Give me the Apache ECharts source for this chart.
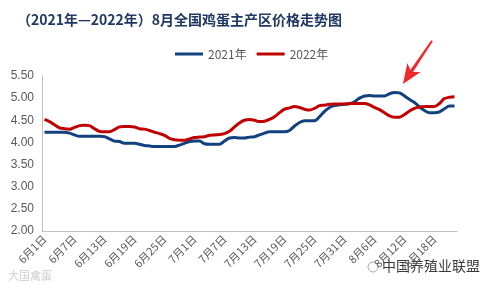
<!DOCTYPE html>
<html><head><meta charset="utf-8">
<script src="https://cdn.jsdelivr.net/npm/echarts@6/dist/echarts.min.js"></script>
<style>html,body{margin:0;padding:0;background:#fff}#c{width:480px;height:288px}</style>
</head><body><div id="c"></div>
<script>
// categories: 6月1日 .. 8月22日
const months = [[6, 30], [7, 31], [8, 22]];
const categories = [];
for (const [m, n] of months) for (let d = 1; d <= n; d++) categories.push(m + '月' + d + '日');

const s2021 = [4.23,4.23,4.23,4.23,4.23,4.21,4.17,4.14,4.14,4.14,4.14,4.14,4.13,4.08,4.03,4.02,3.98,3.98,3.98,3.96,
3.93,3.92,3.91,3.91,3.91,3.91,3.91,3.94,3.98,4.02,4.03,4.03,3.97,3.96,3.96,3.96,4.03,4.10,4.11,4.10,
4.10,4.12,4.13,4.17,4.21,4.24,4.24,4.24,4.24,4.27,4.37,4.45,4.49,4.49,4.49,4.58,4.70,4.79,4.83,4.85,
4.86,4.87,4.92,5.00,5.05,5.06,5.05,5.05,5.05,5.10,5.13,5.12,5.05,4.97,4.90,4.80,4.72,4.67,4.67,4.69,
4.76,4.82,4.82];
const s2022 = [4.52,4.47,4.40,4.33,4.31,4.30,4.34,4.38,4.39,4.38,4.31,4.25,4.24,4.24,4.29,4.35,4.36,4.36,4.35,4.31,
4.30,4.27,4.23,4.20,4.16,4.09,4.06,4.05,4.05,4.08,4.11,4.12,4.13,4.16,4.17,4.18,4.20,4.25,4.35,4.44,
4.50,4.52,4.50,4.47,4.48,4.52,4.58,4.67,4.75,4.78,4.81,4.79,4.75,4.73,4.77,4.83,4.84,4.86,4.87,4.87,
4.87,4.88,4.88,4.88,4.88,4.85,4.79,4.74,4.67,4.60,4.57,4.57,4.63,4.71,4.77,4.80,4.81,4.81,4.81,4.88,
4.99,5.02,5.03];
const seriesNames = ['2021年', '2022年'];
const yTicks = [2.0, 2.5, 3.0, 3.5, 4.0, 4.5, 5.0, 5.5];

const chart = echarts.init(document.getElementById('c'), null, {renderer: 'canvas'});
const arrowPath = 'path://M50,0 L100,38 L60,30 L56,100 L44,100 L40,30 L0,38 Z';
chart.setOption({
  animation: false,
  backgroundColor: '#fff',
  title: {
    text: '（2021年—2022年）8月全国鸡蛋主产区价格走势图',
    left: 12, top: 8,
    textStyle: {fontFamily: 'Noto Sans CJK SC', fontSize: 14, fontWeight: 'bold', color: '#1F3864'}
  },
  legend: {
    top: 43, left: 170,
    itemWidth: 28, itemHeight: 3, itemGap: 10, icon: 'rect',
    textStyle: {fontFamily: 'Noto Sans CJK SC', fontSize: 12, color: '#595959'},
    data: seriesNames
  },
  grid: {left: 42, right: 23, top: 76, bottom: 57},
  xAxis: {
    type: 'category', data: categories, boundaryGap: true,
    axisLine: {lineStyle: {color: '#BFBFBF'}},
    axisTick: {interval: 5, length: 5, lineStyle: {color: '#BFBFBF'}},
    axisLabel: {interval: 5, rotate: 45, fontSize: 11, color: '#595959', fontFamily: 'Noto Sans CJK SC', margin: 6}
  },
  yAxis: {
    type: 'value', min: yTicks[0], max: yTicks[yTicks.length - 1], interval: 0.5,
    axisLine: {show: true, lineStyle: {color: '#BFBFBF'}},
    axisTick: {show: false},
    splitLine: {show: false},
    axisLabel: {formatter: v => v.toFixed(2), fontSize: 12, color: '#595959', fontFamily: 'Liberation Sans', margin: 8}
  },
  series: [
    {name: seriesNames[0], type: 'line', data: s2021, showSymbol: false, smooth: 0.3,
     lineStyle: {width: 3, color: '#11427F'}, itemStyle: {color: '#11427F'},
     markPoint: {
       data: [{type: 'max'}],
       symbol: arrowPath, symbolSize: [16, 52], symbolRotate: 146, symbolOffset: [23, -30],
       itemStyle: {color: '#F0282A'}, label: {show: false}, silent: true
     }},
    {name: seriesNames[1], type: 'line', data: s2022, showSymbol: false, smooth: 0.3,
     lineStyle: {width: 3, color: '#C00000'}, itemStyle: {color: '#C00000'}}
  ],
  graphic: [
    {type: 'text', left: 382, top: 259, style: {text: '中国养殖业联盟', fontSize: 14, fontFamily: 'Noto Sans CJK SC', fill: '#3a3a3a'}},
    {type: 'circle', shape: {cx: 373, cy: 267, r: 5}, style: {fill: 'none', stroke: '#aaa', lineWidth: 1}},
    {type: 'text', left: 8, top: 270, style: {text: '大国禽蛋', fontSize: 11, fontFamily: 'Noto Sans CJK SC', fill: '#cfcfcf'}}
  ]
});
</script></body></html>
